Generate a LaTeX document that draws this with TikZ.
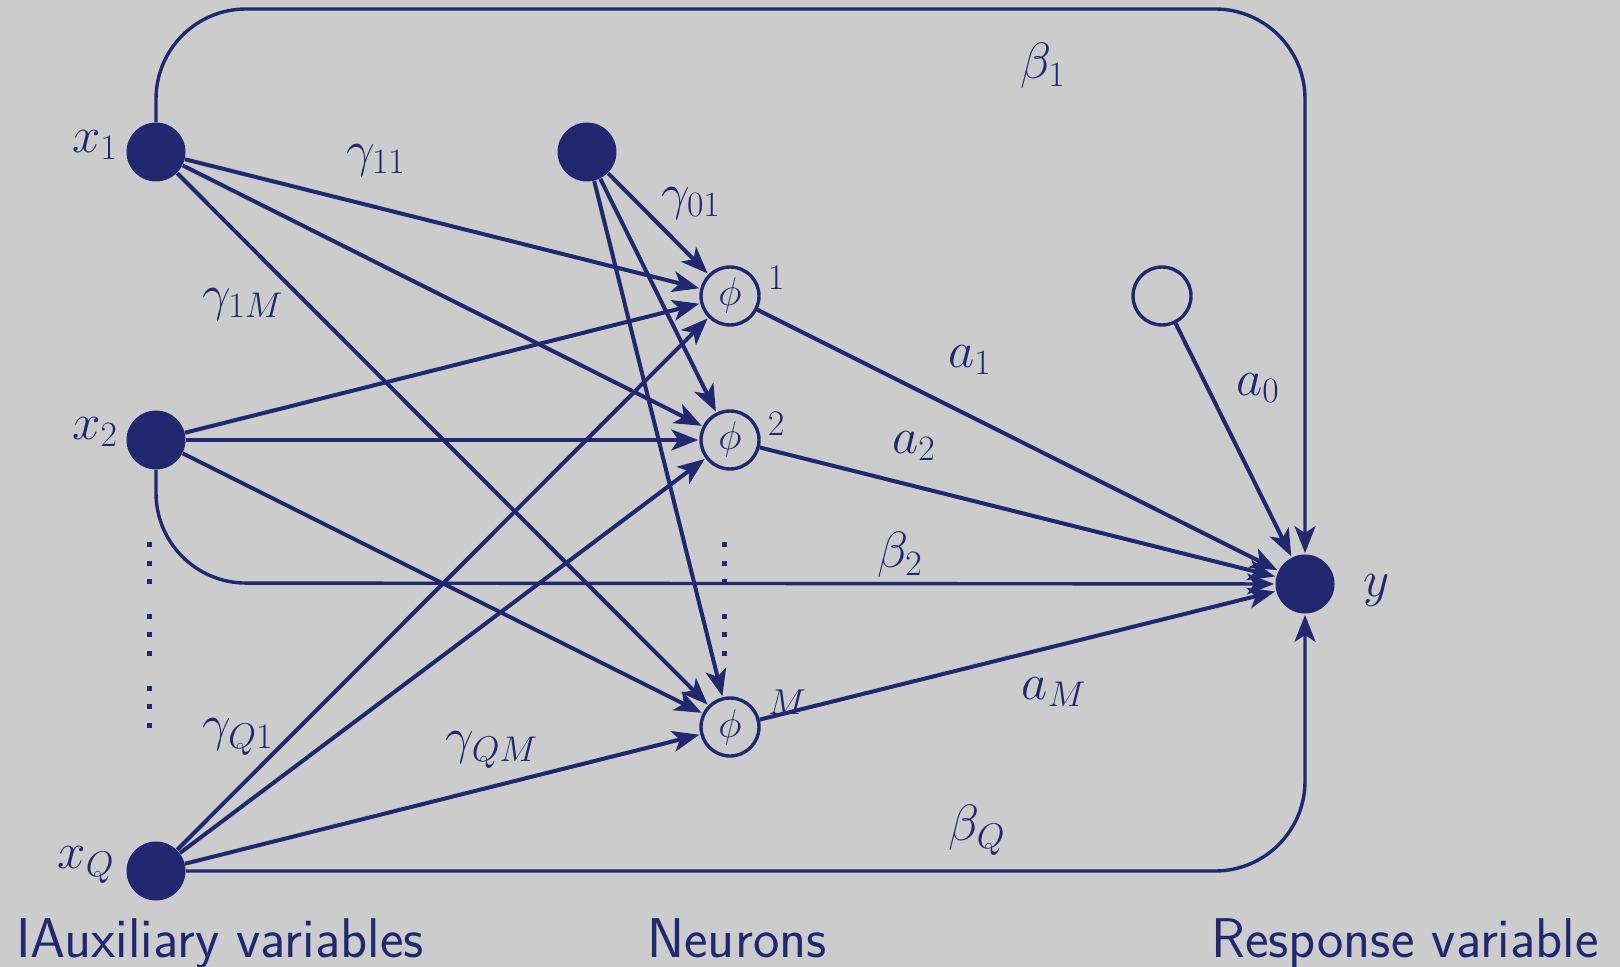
\RequirePackage{fix-cm}
\documentclass[tikz,border=0pt]{standalone}
\usetikzlibrary{arrows.meta}
\definecolor{navy}{RGB}{32,40,112}
\definecolor{bgc}{RGB}{204,204,204}
\begin{document}
\begin{tikzpicture}[x=0.5pt,y=-0.5pt,
  every node/.style={text=navy},
  inp/.style={circle, fill=navy, inner sep=0pt, minimum size=29.5pt},
  neu/.style={circle, draw=navy, line width=1.7pt, inner sep=0pt, minimum size=29pt, font=\fontsize{20}{24}\selectfont},
  conn/.style={draw=navy, line width=2pt, -{Stealth[length=13.5pt,width=10.5pt,inset=3.5pt]}, shorten >=0.5pt},
  loopc/.style={conn, line width=1.7pt, rounded corners=45pt},
  lab/.style={inner sep=0pt, font=\fontsize{25.5}{30}\selectfont},
  smalllab/.style={inner sep=0pt, font=\fontsize{18}{22}\selectfont},
  captxt/.style={inner sep=0pt, anchor=base, font=\fontsize{28}{34}\selectfont\sffamily},
  vdot/.style={fill=navy}
]
\fill[bgc] (0,0) rectangle (1620,967);
\useasboundingbox (0,0) rectangle (1620,967);

% nodes
\node[inp] (x1) at (156,152) {};
\node[inp] (x2) at (156,440) {};
\node[inp] (xQ) at (156,871) {};
\node[inp] (b) at (587,152) {};
\node[neu] (p1) at (730,296) {$\phi$};
\node[neu] (p2) at (730,440) {$\phi$};
\node[neu] (pM) at (730,727) {$\phi$};
\node[neu] (a0n) at (1162,296) {};
\node[inp] (y) at (1305,584) {};

% loop corner coordinates
\coordinate (tl) at (156,9);
\coordinate (tr) at (1305,9);
\coordinate (ml) at (156,583);
\coordinate (br) at (1305,871);

% beta connectors
\draw[loopc] (x1) -- (tl) -- (tr) -- (y);
\draw[loopc] (x2) -- (ml) -- (y);
\draw[loopc] (xQ) -- (br) -- (y);

% input -> neurons
\foreach \s in {x1,x2,xQ,b}{
  \foreach \t in {p1,p2,pM}{
    \draw[conn] (\s) -- (\t);
  }
}

% neurons -> y
\draw[conn] (p1) -- (y);
\draw[conn] (p2) -- (y);
\draw[conn] (pM) -- (y);
\draw[conn] (a0n) -- (y);

% dots
\foreach \yy in {544,563,581,616,634,653,688,706,725}{
  \fill[vdot] (147,\yy-2.5) rectangle ++(5,5);
}
\foreach \yy in {544,563,581,616,634,653}{
  \fill[vdot] (721.5,\yy-2.5) rectangle ++(5,5);
}

% labels
\node[lab] (lx1) at (95,145) {$x_1$};
\node[lab] (lx2) at (95,432) {$x_2$};
\node[lab] (lxQ) at (86,865) {$x_Q$};
\node[lab] (lg11) at (376,160) {$\gamma_{11}$};
\node[lab] (lg01) at (691,203) {$\gamma_{01}$};
\node[lab] (lg1M) at (243,304) {$\gamma_{1M}$};
\node[lab] (lgQ1) at (238,737) {$\gamma_{Q1}$};
\node[lab] (lgQM) at (492,750) {$\gamma_{QM}$};
\node[lab] (lb1) at (1043,66) {$\beta_1$};
\node[lab] (lb2) at (900,555) {$\beta_2$};
\node[lab] (lbQ) at (977,830) {$\beta_Q$};
\node[lab] (la1) at (970,360) {$a_1$};
\node[lab] (la2) at (914,446) {$a_2$};
\node[lab] (la0) at (1258,388) {$a_0$};
\node[lab] (laM) at (1054,692) {$a_M$};
\node[lab] (ly) at (1377,590) {$y$};
\node[smalllab] (n1) at (776,278) {$1$};
\node[smalllab] (n2) at (776,424) {$2$};
\node[smalllab] (nM) at (787,702) {$M$};

% captions
\node[captxt] (c1) at (220,957) {IAuxiliary variables};
\node[captxt] (c2) at (737,957) {Neurons};
\node[captxt] (c3) at (1405,957) {Response variable};
\end{tikzpicture}
\end{document}
